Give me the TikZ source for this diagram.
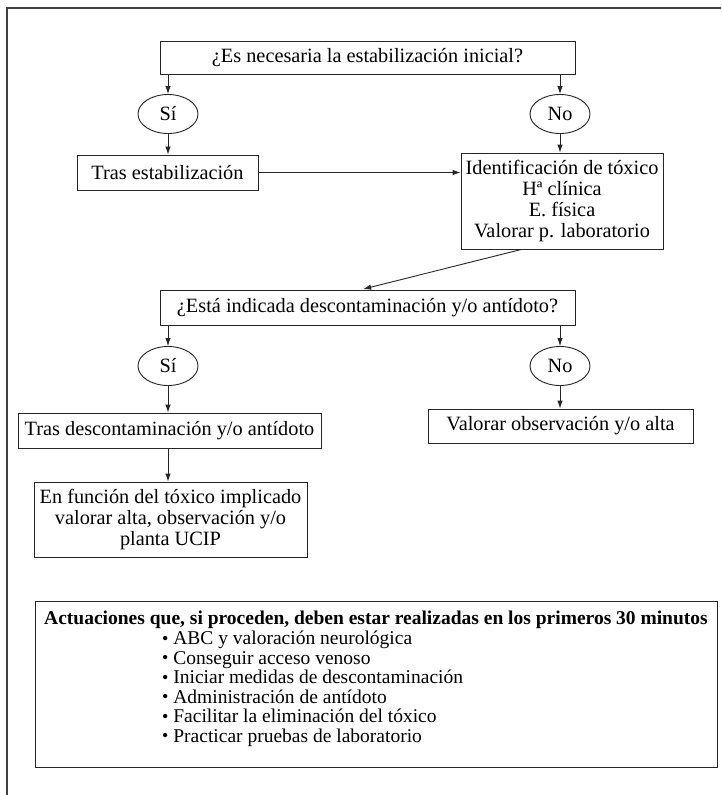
\documentclass[tikz,border=0pt]{standalone}
\usepackage{fontspec}
\setmainfont{Liberation Serif}
\usetikzlibrary{arrows.meta,shapes.geometric,calc}
\newcommand{\flowfont}{\fontsize{20.3}{21}\selectfont}
\newcommand{\listfont}{\fontsize{19.5}{19.5}\selectfont}
\newcommand{\itembullet}{\raisebox{0.05ex}{\fontsize{18}{18}\selectfont •}}
\begin{document}
\begin{tikzpicture}[x=1pt,y=-1pt,
  line/.style={draw=black!85, line width=0.9pt},
  arr/.style={line, -{Latex[length=8pt,width=5.5pt]}},
  box/.style={line, rectangle, inner sep=0pt, align=center, font=\flowfont},
  oval/.style={line, ellipse, inner sep=0pt, minimum width=60pt, minimum height=39pt, font=\flowfont},
]
\useasboundingbox (0,0) rectangle (721,795);
\fill[white] (0,0) rectangle (721,795);

% page frame (top and left rules)
\draw[draw=black!75, line width=1.6pt] (721,8) -- (7,8) -- (7,795);

% first decision
\node[box, minimum width=415pt, minimum height=33pt] (q1) at (367.5,57.5)
  {¿Es necesaria la estabilización inicial?};
\node[oval] (si1) at (168,114) {Sí};
\node[oval] (no1) at (560,114) {No};
\node[box, minimum width=181pt, minimum height=35pt] (tras1) at (167.5,172.5)
  {Tras estabilización};
\node[box, minimum width=202pt, minimum height=96pt] (ident) at (562,201)
  {Identificación de tóxico\\ Hª clínica\\ E. física\\ Valorar p. laboratorio};

% second decision
\node[box, minimum width=415pt, minimum height=35pt] (q2) at (367.5,307.5)
  {¿Está indicada descontaminación y/o antídoto?};
\node[oval] (si2) at (168,366) {Sí};
\node[oval] (no2) at (560,366) {No};
\node[box, minimum width=303pt, minimum height=35pt] (tras2) at (169.5,430.5)
  {Tras descontaminación y/o antídoto};
\node[box, minimum width=265pt, minimum height=34pt] (valobs) at (560.5,426)
  {Valorar observación y/o alta};
\node[box, minimum width=273pt, minimum height=75pt] (funcion) at (170.5,519.5)
  {\fontsize{20.3}{18.5}\selectfont En función del tóxico implicado\\ valorar alta, observación y/o\\ planta UCIP};

% summary box
\node[line, rectangle, minimum width=682pt, minimum height=166pt, inner sep=0pt] (act) at (376,684) {};
\node[font=\listfont\bfseries, inner sep=0pt] (acthead) at (376,620)
  {Actuaciones que, si proceden, deben estar realizadas en los primeros 30 minutos};
\node[font=\listfont, align=left, anchor=north west, inner sep=0pt] (actlist) at (162,631)
  {\itembullet\ ABC y valoración neurológica\\
   \itembullet\ Conseguir acceso venoso\\
   \itembullet\ Iniciar medidas de descontaminación\\
   \itembullet\ Administración de antídoto\\
   \itembullet\ Facilitar la eliminación del tóxico\\
   \itembullet\ Practicar pruebas de laboratorio};

% connectors
\draw[arr] (q1.south -| si1) -- (si1.north);
\draw[arr] (q1.south -| no1) -- (no1.north);
\draw[arr] (si1.south) -- (si1.south |- tras1.north);
\draw[arr] (no1.south) -- (no1.south |- ident.north);
\draw[arr] (tras1.east) -- (tras1.east -| ident.west);
\draw[arr, shorten >=2pt] ($(ident.south west)!0.3!(ident.south east)$)
  -- ($(q2.north west)!0.485!(q2.north east)$);
\draw[arr] (q2.south -| si2) -- (si2.north);
\draw[arr] (q2.south -| no2) -- (no2.north);
\draw[arr] (si2.south) -- (si2.south |- tras2.north);
\draw[arr] (no2.south) -- (no2.south |- valobs.north);
\draw[arr] (tras2.south -| si2) -- (si2 |- funcion.north);
\end{tikzpicture}
\end{document}
